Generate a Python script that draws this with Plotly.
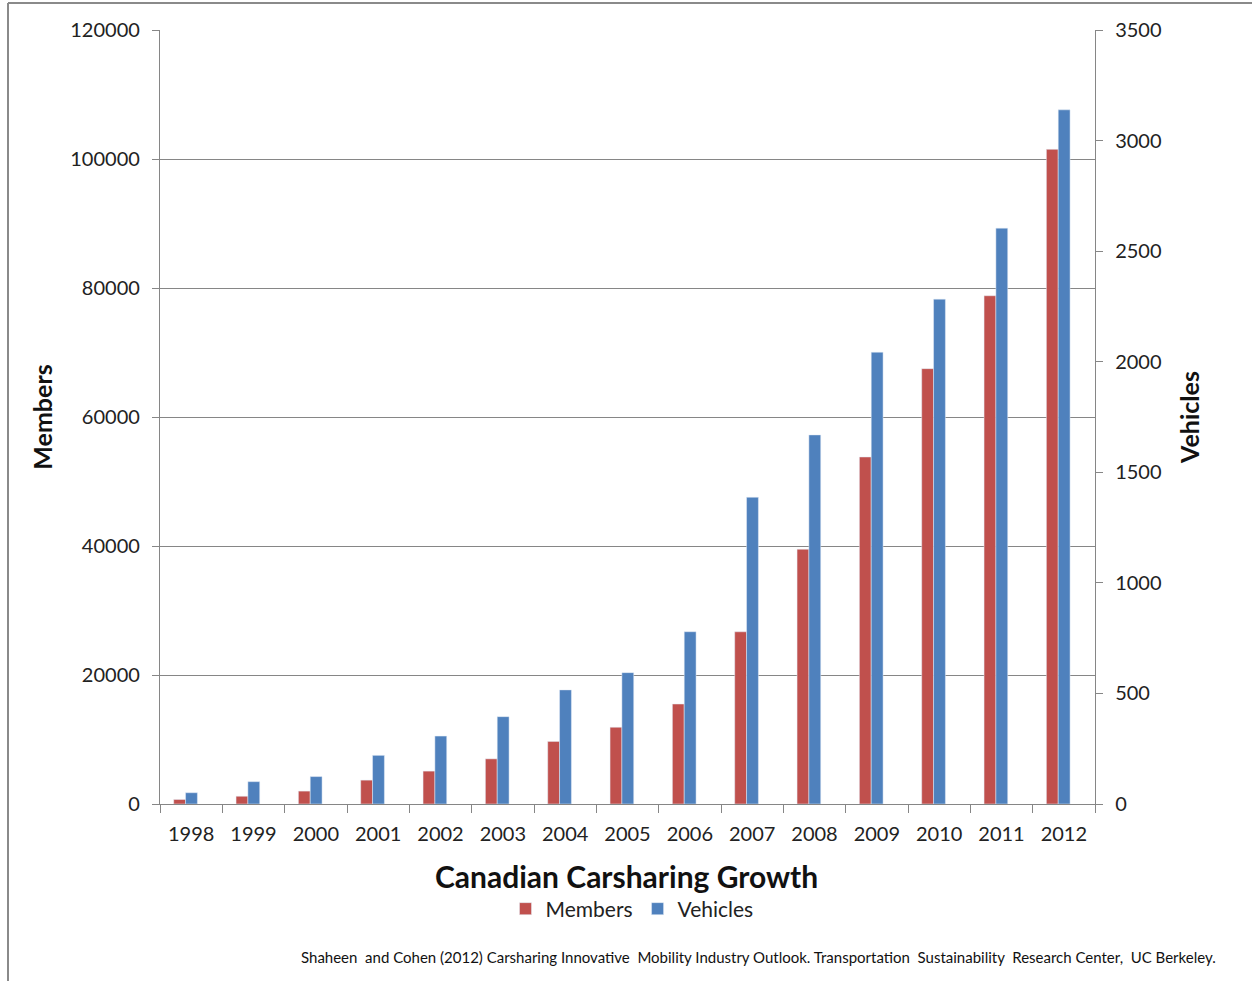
import plotly.graph_objects as go

years = ["1998", "1999", "2000", "2001", "2002", "2003", "2004", "2005",
         "2006", "2007", "2008", "2009", "2010", "2011", "2012"]
members = [700, 1200, 2000, 3700, 5100, 7000, 9700, 11900, 15500, 26700,
           39500, 53800, 67500, 78800, 101500]
vehicles = [51, 101, 124, 220, 307, 395, 516, 594, 779, 1387,
            1669, 2043, 2283, 2604, 3139]
left_ticks = [0, 20000, 40000, 60000, 80000, 100000, 120000]
right_ticks = [0, 500, 1000, 1500, 2000, 2500, 3000, 3500]

RED = "#C0504D"
BLUE = "#4F81BD"
FONT = "Lato, 'Open Sans', sans-serif"

L, R, T, B = 160, 1095, 30, 804
W, H = 1252, 981

fig = go.Figure()
fig.add_trace(go.Bar(x=years, y=members, name="Members", marker_color=RED,
                     width=0.19, offset=-0.28, yaxis="y"))
fig.add_trace(go.Bar(x=years, y=vehicles, name="Vehicles", marker_color=BLUE,
                     width=0.19, offset=-0.09, yaxis="y2"))


def px_x(x):
    return (x - L) / (R - L)


def px_y(y):
    return (B - y) / (B - T)


fig.update_layout(
    width=W, height=H,
    margin=dict(l=L, r=W - R, t=T, b=H - B),
    paper_bgcolor="white", plot_bgcolor="white",
    font=dict(family=FONT, color="#222222"),
    barmode="overlay",
    showlegend=True,
    legend=dict(orientation="h", x=px_x(632), xanchor="center", y=px_y(909), yanchor="middle",
                font=dict(size=21, family=FONT, color="#222222"), traceorder="normal",
                itemwidth=30, tracegroupgap=0),
    xaxis=dict(
        type="category", showgrid=False, showline=True, linecolor="#868686",
        linewidth=1.3, ticks="outside", ticklen=8, tickcolor="#868686",
        tickson="boundaries", tickfont=dict(size=20, family=FONT, color="#222222"),
        ticklabelstandoff=12,
    ),
    yaxis=dict(
        range=[0, 120000], tickvals=left_ticks, ticktext=[str(v) for v in left_ticks],
        showgrid=True, gridcolor="#868686", gridwidth=1.2, showline=True,
        linecolor="#868686", linewidth=1.3, ticks="outside", ticklen=7,
        tickcolor="#868686", tickfont=dict(size=20, family=FONT, color="#222222"),
        zeroline=False, ticklabelstandoff=8,
        title=dict(text="<b>Members</b>", font=dict(size=25, family=FONT, color="#111111"),
                   standoff=10),
    ),
    yaxis2=dict(
        range=[0, 3500], tickvals=right_ticks, ticktext=[str(v) for v in right_ticks],
        overlaying="y", side="right", showgrid=False, showline=True,
        linecolor="#868686", linewidth=1.3, ticks="outside", ticklen=7,
        tickcolor="#868686", tickfont=dict(size=20, family=FONT, color="#222222"),
        zeroline=False, ticklabelstandoff=8,
        title=dict(text="<b>Vehicles</b>", font=dict(size=25, family=FONT, color="#111111"),
                   standoff=20),
    ),
)

fig.add_annotation(text="<b>Canadian Carsharing Growth</b>", xref="paper", yref="paper",
                   x=px_x(626), y=px_y(876), xanchor="center", yanchor="middle",
                   showarrow=False, font=dict(size=30, family=FONT, color="#111111"))
fig.add_annotation(text="Shaheen  and Cohen (2012) Carsharing Innovative  Mobility Industry Outlook. "
                        "Transportation  Sustainability  Research Center,  UC Berkeley.",
                   xref="paper", yref="paper", x=px_x(1218), y=px_y(957),
                   xanchor="right", yanchor="middle", showarrow=False,
                   font=dict(size=15, family=FONT, color="#111111"))

# outer chart border (left and top edges visible)
fig.add_shape(type="line", xref="paper", yref="paper",
              x0=px_x(8), x1=px_x(8), y0=px_y(3), y1=px_y(981),
              line=dict(color="#8a8a8a", width=2))
fig.add_shape(type="line", xref="paper", yref="paper",
              x0=px_x(8), x1=px_x(1252), y0=px_y(3), y1=px_y(3),
              line=dict(color="#8a8a8a", width=2))

fig.write_html("out.html")
